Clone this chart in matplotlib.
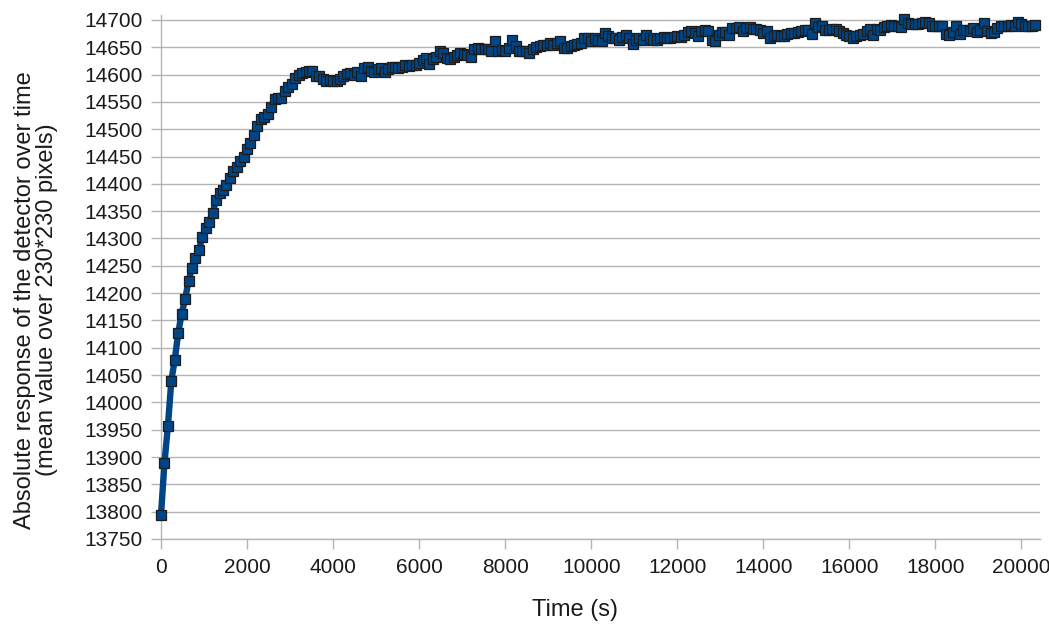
import numpy as np
import matplotlib
matplotlib.use("Agg")
import matplotlib.pyplot as plt

# sampling times (s)
time_s = np.arange(0, 20321, 80)

# mean detector response
response = [
    13794, 13889, 13956, 14040, 14078, 14127, 14162, 14189, 14222, 14246,
    14264, 14279, 14302, 14319, 14331, 14346, 14371, 14383, 14389, 14398,
    14411, 14423, 14431, 14441, 14450, 14464, 14475, 14490, 14506, 14519,
    14522, 14528, 14540, 14555, 14557, 14558, 14569, 14577, 14583, 14594,
    14600, 14603, 14605, 14607, 14606, 14598, 14597, 14592, 14589, 14590,
    14588, 14589, 14592, 14598, 14601, 14603, 14600, 14604, 14598, 14612,
    14613, 14607, 14604, 14610, 14612, 14604, 14610, 14613, 14613, 14612,
    14614, 14617, 14615, 14618, 14617, 14621, 14627, 14630, 14619, 14628,
    14633, 14643, 14640, 14630, 14629, 14633, 14636, 14639, 14638, 14636,
    14633, 14647, 14649, 14647, 14646, 14646, 14644, 14661, 14644, 14645,
    14643, 14649, 14664, 14652, 14644, 14643, 14643, 14640, 14647, 14650,
    14652, 14654, 14655, 14658, 14655, 14658, 14662, 14649, 14649, 14652,
    14655, 14656, 14658, 14667, 14666, 14661, 14666, 14664, 14662, 14676,
    14670, 14666, 14666, 14664, 14668, 14672, 14666, 14656, 14664, 14666,
    14664, 14673, 14666, 14664, 14664, 14667, 14668, 14667, 14667, 14669,
    14670, 14669, 14673, 14677, 14679, 14676, 14671, 14679, 14681, 14680,
    14663, 14661, 14673, 14677, 14677, 14673, 14686, 14685, 14687, 14679,
    14685, 14687, 14684, 14684, 14681, 14676, 14679, 14667, 14670, 14673,
    14671, 14671, 14675, 14676, 14676, 14677, 14679, 14681, 14681, 14675,
    14694, 14687, 14688, 14681, 14682, 14684, 14684, 14679, 14676, 14673,
    14671, 14667, 14670, 14673, 14675, 14679, 14684, 14672, 14684, 14682,
    14687, 14689, 14691, 14688, 14688, 14687, 14702, 14694, 14693, 14693,
    14693, 14694, 14697, 14695, 14688, 14689, 14689, 14688, 14675, 14673,
    14677, 14688, 14675, 14682, 14682, 14679, 14685, 14677, 14682, 14694,
    14679, 14676, 14677, 14685, 14688, 14688, 14688, 14691, 14689, 14697,
    14693, 14688, 14688, 14688, 14691,
]

x_ticks = list(range(0, 20001, 2000))
y_ticks = list(range(13750, 14701, 50))

plt.rcParams['font.family'] = ['Liberation Sans', 'DejaVu Sans']

W, H = 1049, 624
fig = plt.figure(figsize=(W / 100, H / 100), dpi=100)
ax = fig.add_axes([161 / W, 1 - 539 / H, (1040 - 161) / W, (539 - 15) / H])

ax.plot(time_s[:len(response)], response, color='#004586', lw=4.6,
        marker='s', markersize=6.6, markerfacecolor='#004586',
        markeredgecolor='#1c1c1c', markeredgewidth=0.9, zorder=3,
        clip_on=False)

ax.set_xlim(0, 20430)
ax.set_ylim(13750, 14709)
ax.set_xticks(x_ticks)
ax.set_yticks(y_ticks)
ax.grid(axis='y', color='#b3b3b3', lw=1.0)
ax.set_axisbelow(True)

for s in ['top', 'right']:
    ax.spines[s].set_visible(False)
for s in ['left', 'bottom']:
    ax.spines[s].set_color('#b3b3b3')
    ax.spines[s].set_linewidth(1.0)

ax.tick_params(axis='both', colors='#b3b3b3', labelcolor='#1a1a1a',
               labelsize=15, length=7, width=1.0, direction='out')
ax.tick_params(axis='y', pad=6)
ax.tick_params(axis='x', pad=7)

ax.set_xlabel('Time (s)', fontsize=17, color='#1a1a1a')
ax.xaxis.set_label_coords((575 - 161) / (1040 - 161), -(610 - 539) / (539 - 15))
ax.xaxis.label.set_va('center')

ax.set_ylabel('Absolute response of the detector over time\n(mean value over 230*230 pixels)',
              fontsize=17, color='#1a1a1a', linespacing=1.05)
ax.yaxis.set_label_coords(-(161 - 36) / (1040 - 161), (539 - 300) / (539 - 15))
ax.yaxis.label.set_va('center')

fig.savefig('out.png', dpi=100)
